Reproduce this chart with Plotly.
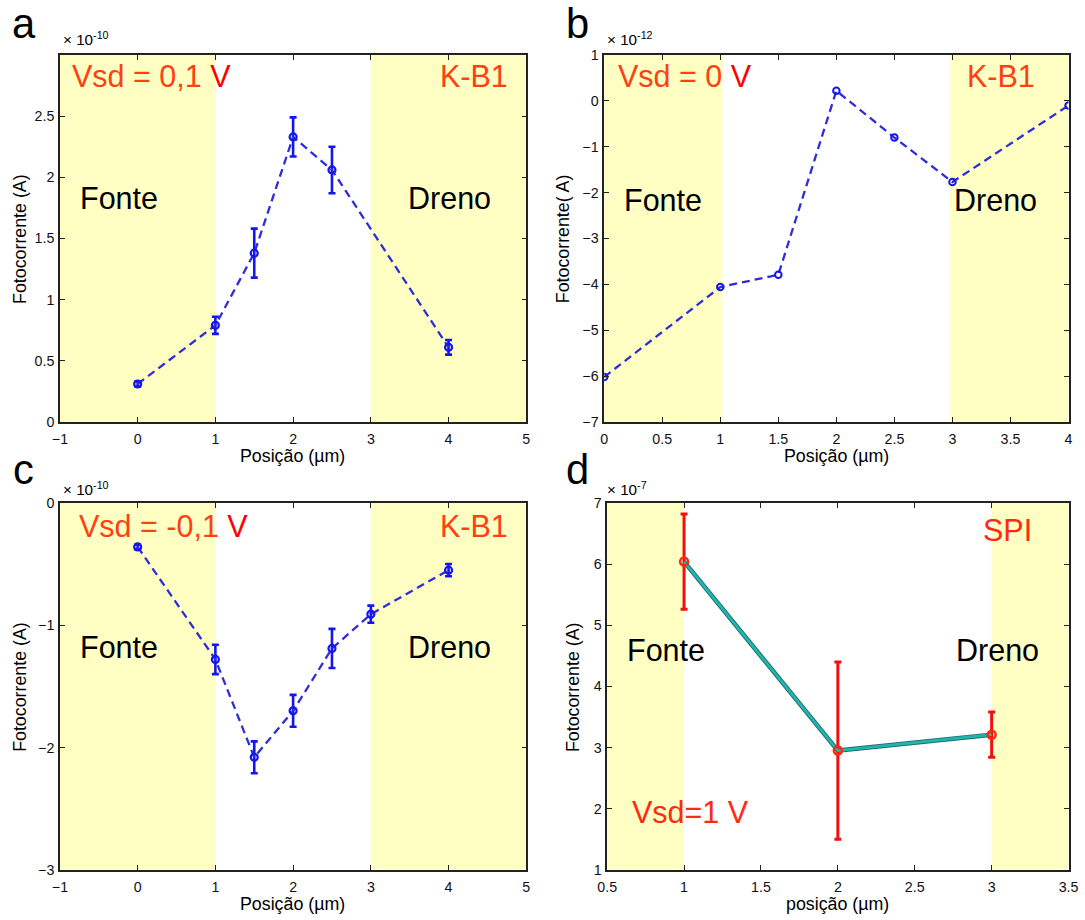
import plotly.graph_objects as go

# The photographed page maps figure pixel f to page pixel 8 + 0.983*f,
# so every page position / size below is converted back to figure units.
OFF = 8.0
K = 0.983
FW, FH = 1090, 930

# ---------------- data ----------------
# panel a (Vsd = 0.1 V), units 1e-10 A
a_x = [0, 1, 1.5, 2, 2.5, 4]
a_y = [0.31, 0.79, 1.38, 2.33, 2.06, 0.61]
a_err = [0.02, 0.07, 0.20, 0.16, 0.19, 0.06]

# panel b (Vsd = 0 V), units 1e-12 A
b_x = [0, 1, 1.5, 2, 2.5, 3, 4]
b_y = [-6.02, -4.06, -3.79, 0.22, -0.80, -1.77, -0.10]

# panel c (Vsd = -0.1 V), units 1e-10 A
c_x = [0, 1, 1.5, 2, 2.5, 3, 4]
c_y = [-0.36, -1.28, -2.08, -1.70, -1.19, -0.91, -0.55]
c_err = [0.02, 0.12, 0.13, 0.13, 0.16, 0.07, 0.05]

# panel d (SPI, Vsd = 1 V), units 1e-7 A
d_x = [1, 2, 3]
d_y = [6.04, 2.95, 3.21]
d_err = [0.78, 1.45, 0.37]

# shaded electrode regions (x ranges)
a_regions = [(-1, 1), (3, 5)]
b_regions = [(0, 1.02), (2.98, 4)]
c_regions = [(-1, 1), (3, 5)]
d_regions = [(0.5, 1), (3, 3.5)]

# ticks
ac_xticks = [-1, 0, 1, 2, 3, 4, 5]
a_yticks = [0, 0.5, 1, 1.5, 2, 2.5]
b_xticks = [0, 0.5, 1, 1.5, 2, 2.5, 3, 3.5, 4]
b_yticks = [-7, -6, -5, -4, -3, -2, -1, 0, 1]
c_yticks = [-3, -2, -1, 0]
d_xticks = [0.5, 1, 1.5, 2, 2.5, 3, 3.5]
d_yticks = [1, 2, 3, 4, 5, 6, 7]

FONT = "Liberation Sans, Arial, sans-serif"
YELLOW = "#ffffc4"
BLUE = "#1515f0"
LINEBLUE = "#2e2ed8"
ORANGE = "#ff4010"
DASH = "8px,5px"


def px(x):
    return ((x - OFF) / K) / FW


def py(y):
    return 1 - ((y - OFF) / K) / FH


def fs(s):
    return s / K


fig = go.Figure()

# domains from page-pixel boxes
dom = {
    1: ([px(58), px(525)], [py(422), py(55)]),
    2: ([px(603), px(1068)], [py(422), py(55)]),
    3: ([px(58), px(525)], [py(870), py(503)]),
    4: ([px(606), px(1068)], [py(870), py(503)]),
}

axis_cfg = {
    1: dict(xr=[-1, 5], yr=[0, 3], xt=ac_xticks, yt=a_yticks),
    2: dict(xr=[0, 4], yr=[-7, 1], xt=b_xticks, yt=b_yticks),
    3: dict(xr=[-1, 5], yr=[-3, 0], xt=ac_xticks, yt=c_yticks),
    4: dict(xr=[0.5, 3.5], yr=[1, 7], xt=d_xticks, yt=d_yticks),
}

layout = {}
for i in range(1, 5):
    xs = "" if i == 1 else str(i)
    cfg = axis_cfg[i]
    common = dict(showgrid=False, zeroline=False, showline=True, linecolor="#222",
                  linewidth=1.5, mirror="ticks", ticks="inside", ticklen=5,
                  tickcolor="#222", tickwidth=1.2,
                  tickfont=dict(family=FONT, size=fs(14), color="#111"))
    layout["xaxis" + xs] = dict(domain=dom[i][0], range=cfg["xr"], tickvals=cfg["xt"],
                                anchor="y" + xs, ticklabelstandoff=3, **common)
    layout["yaxis" + xs] = dict(domain=dom[i][1], range=cfg["yr"], tickvals=cfg["yt"],
                                anchor="x" + xs, ticklabelstandoff=1, **common)
fig.update_layout(**layout)

# shaded regions
shapes = []
for i, regs in zip(range(1, 5), [a_regions, b_regions, c_regions, d_regions]):
    xs = "" if i == 1 else str(i)
    yr = axis_cfg[i]["yr"]
    for x0, x1 in regs:
        shapes.append(dict(type="rect", xref="x" + xs, yref="y" + xs, x0=x0, x1=x1,
                           y0=yr[0], y1=yr[1], fillcolor=YELLOW, line_width=0,
                           layer="below"))
fig.update_layout(shapes=shapes)

marker_blue = dict(symbol="circle-open", size=7, color=BLUE, line=dict(width=2.2, color=BLUE))

fig.add_trace(go.Scatter(x=a_x, y=a_y, mode="lines+markers", xaxis="x", yaxis="y",
                         line=dict(color=LINEBLUE, width=2.3, dash=DASH),
                         marker=marker_blue,
                         error_y=dict(type="data", array=a_err, color=BLUE, thickness=2.6, width=3.5)))
fig.add_trace(go.Scatter(x=b_x, y=b_y, mode="lines+markers", xaxis="x2", yaxis="y2",
                         line=dict(color=LINEBLUE, width=2.3, dash=DASH),
                         marker=dict(symbol="circle-open", size=6.5, color=BLUE,
                                     line=dict(width=2, color=BLUE))))
fig.add_trace(go.Scatter(x=c_x, y=c_y, mode="lines+markers", xaxis="x3", yaxis="y3",
                         line=dict(color=LINEBLUE, width=2.3, dash=DASH),
                         marker=marker_blue,
                         error_y=dict(type="data", array=c_err, color=BLUE, thickness=2.6, width=3.5)))
fig.add_trace(go.Scatter(x=d_x, y=d_y, mode="lines", xaxis="x4", yaxis="y4",
                         line=dict(color="#1e6e6e", width=4.5), hoverinfo="skip"))
fig.add_trace(go.Scatter(x=d_x, y=d_y, mode="lines+markers", xaxis="x4", yaxis="y4",
                         line=dict(color="#22b5b0", width=2.6),
                         marker=dict(symbol="circle-open", size=8, color="#ff2a10",
                                     line=dict(width=2.5, color="#ff2a10")),
                         error_y=dict(type="data", array=d_err, color="#f01010", thickness=3, width=3.5)))

ann = []


def text(x, y, s, size, color="black", xanchor="center", angle=0):
    ann.append(dict(x=px(x), y=py(y), xref="paper", yref="paper", text=s, showarrow=False,
                    xanchor=xanchor, yanchor="middle", textangle=angle,
                    font=dict(family=FONT, size=fs(size), color=color)))


# panel letters
text(22, 24, "a", 41)
text(576, 24, "b", 41)
text(22, 470, "c", 41)
text(576, 470, "d", 41)

# exponent labels
text(59, 39, "× 10<sup>-10</sup>", 15, xanchor="left")
text(604, 39, "× 10<sup>-12</sup>", 15, xanchor="left")
text(59, 489, "× 10<sup>-10</sup>", 15, xanchor="left")
text(604, 489, "× 10<sup>-7</sup>", 15, xanchor="left")

RED_V = "<span style='color:#ff0000'>V</span>"
# panel a
text(68, 76, "Vsd = 0,1 " + RED_V, 30, ORANGE, xanchor="left")
text(473, 76, "K-B1", 30, ORANGE)
text(117, 198, "Fonte", 30)
text(448, 198, "Dreno", 30)
# panel b
text(615, 76, "Vsd = 0 " + RED_V, 30, ORANGE, xanchor="left")
text(1000, 76, "K-B1", 30, ORANGE)
text(662, 200, "Fonte", 30)
text(995, 200, "Dreno", 30)
# panel c
text(75, 526, "Vsd = -0,1 " + RED_V, 30, ORANGE, xanchor="left")
text(473, 526, "K-B1", 30, ORANGE)
text(117, 647, "Fonte", 30)
text(448, 647, "Dreno", 30)
# panel d
text(1007, 530, "SPI", 30, "#ff2a10")
text(665, 650, "Fonte", 30)
text(997, 650, "Dreno", 30)
text(689, 812, "Vsd=1 V", 30, "#ff2a10")

# axis titles
text(291, 456, "Posição (µm)", 17.5)
text(836, 456, "Posição (µm)", 17.5)
text(291, 904, "Posição (µm)", 17.5)
text(837, 904, "posição (µm)", 17.5)
text(18, 239, "Fotocorrente (A)", 17.5, angle=-90)
text(562, 239, "Fotocorrente( A)", 17.5, angle=-90)
text(18, 687, "Fotocorrente (A)", 17.5, angle=-90)
text(572, 687, "Fotocorrente (A)", 17.5, angle=-90)

fig.update_layout(annotations=ann, width=FW, height=FH, showlegend=False,
                  margin=dict(l=0, r=0, t=0, b=0),
                  paper_bgcolor="white", plot_bgcolor="white")

fig.write_html("out.html")
